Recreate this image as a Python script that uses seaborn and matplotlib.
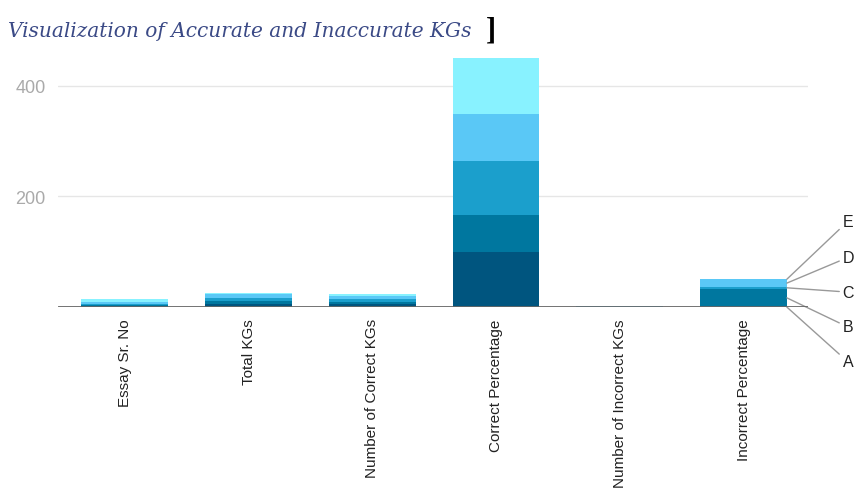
import matplotlib.pyplot as plt
import seaborn as sns
import numpy as np
import pandas as pd

# data
categories = ["Essay Sr. No", "Total KGs", "Number of Correct KGs", "Correct Percentage",
              "Number of Incorrect KGs", "Incorrect Percentage"]
essays = ["A", "B", "C", "D", "E"]
A = [1, 5, 5, 100, 0, 0]
B = [2, 6, 4, 66.67, 1, 33.33]
C = [3, 5, 5, 97, 0, 3]
D = [4, 7, 6, 86, 1, 14]
E = [5, 3, 3, 100, 0, 0]
colors = ["#00557f", "#00779f", "#1b9fcc", "#5ac8f6", "#88f2ff"]

df = pd.DataFrame({"A": A, "B": B, "C": C, "D": D, "E": E}, index=categories)
cum = df.cumsum(axis=1)

sns.set_theme(style="white")
plt.rcParams["font.family"] = ["Liberation Sans", "DejaVu Sans"]

fig = plt.figure(figsize=(8.59, 4.89), dpi=100)
ax = fig.add_axes([0.0675, 0.370, 0.873, 0.509])

# stacked bars: draw cumulative totals from top series down
for name, col in reversed(list(zip(essays, colors))):
    sns.barplot(x=categories, y=cum[name].values, color=col, width=0.7,
                linewidth=0, saturation=1, ax=ax)

ax.set_xlim(-0.54, 5.52)
ax.set_ylim(0, 450)
ax.set_yticks([200, 400])
ax.yaxis.grid(True, color="#e6e6e6", linewidth=1)
ax.set_axisbelow(True)
ax.axhline(0, color="#666666", linewidth=2, zorder=5)
for s in ax.spines.values():
    s.set_visible(False)
ax.tick_params(axis="y", length=0, pad=9, labelsize=13, labelcolor="#aaaaaa")
ax.tick_params(axis="x", length=0, pad=8, labelsize=11, labelcolor="#222222")
for lab in ax.get_xticklabels():
    lab.set_rotation(90)
    lab.set_va("top")
    lab.set_ha("center")
ax.set_xlabel("")
ax.set_ylabel("")

# legend labels with leader lines from the last bar
last = categories[-1]
label_y = {"E": 155, "D": 90, "C": 27, "B": -36, "A": -99}
bottom = 0
for name in essays:
    v = df.loc[last, name]
    ymid = bottom + v / 2 if name != "E" else bottom + v
    bottom += v
    ax.annotate(name, xy=(5.35, ymid), xytext=(5.80, label_y[name]),
                textcoords="data", va="center", ha="left", fontsize=11.5,
                color="#222222", annotation_clip=False,
                arrowprops=dict(arrowstyle="-", color="#999999", lw=1,
                                shrinkA=0, shrinkB=0))

fig.text(0.009, 0.935, "Visualization of Accurate and Inaccurate KGs",
         family=["DejaVu Serif"], style="italic",
         fontsize=14.5, color="#3b4a86", va="center", ha="left")
fig.text(0.566, 0.937, "]", family=["Liberation Serif", "DejaVu Serif"],
         fontweight="bold", fontsize=22, color="black", va="center", ha="left")

plt.savefig("out.png", dpi=100)
